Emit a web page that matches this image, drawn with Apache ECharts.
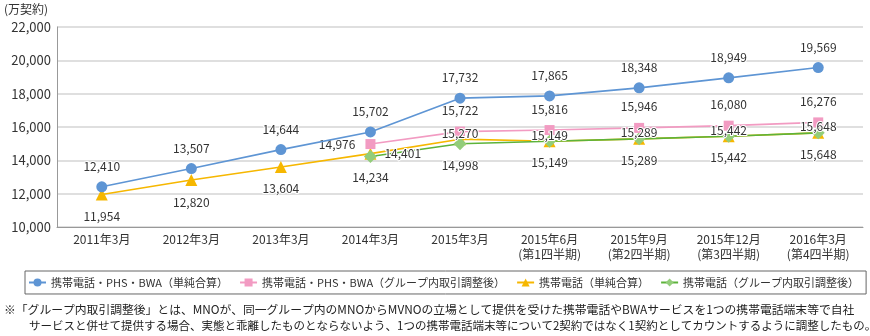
<!DOCTYPE html>
<html>
<head>
<meta charset="utf-8">
<script src="https://cdn.jsdelivr.net/npm/echarts@6/dist/echarts.min.js"></script>
<style>
  html, body { margin: 0; padding: 0; background: #fff; }
  #chart { width: 870px; height: 336px; }
</style>
</head>
<body>
<div id="chart"></div>
<script>
// 契約数の推移（万契約）
const categories = [
  '2011年3月', '2012年3月', '2013年3月', '2014年3月', '2015年3月',
  '2015年6月\n(第1四半期)', '2015年9月\n(第2四半期)', '2015年12月\n(第3四半期)', '2016年3月\n(第4四半期)'
];
const seriesNames = [
  '携帯電話・PHS・BWA（単純合算）',
  '携帯電話・PHS・BWA（グループ内取引調整後）',
  '携帯電話（単純合算）',
  '携帯電話（グループ内取引調整後）'
];
const mobilePhsBwaTotal    = [12410, 13507, 14644, 15702, 17732, 17865, 18348, 18949, 19569];
const mobilePhsBwaAdjusted = [null, null, null, 14976, 15722, 15816, 15946, 16080, 16276];
const mobileTotal          = [11954, 12820, 13604, 14401, 15270, 15149, 15289, 15442, 15648];
const mobileAdjusted       = [null, null, null, 14234, 14998, 15149, 15289, 15442, 15648];
const yTicks = { min: 10000, max: 22000, interval: 2000 };

const FONT = '"Noto Sans CJK JP", "Noto Sans", sans-serif';
const fmt = v => v.toLocaleString('en-US');

const baseLabel = {
  show: true,
  fontFamily: FONT,
  fontSize: 12,
  color: '#333',
  textBorderColor: '#fff',
  textBorderWidth: 2,
  formatter: p => fmt(p.value)
};

// attach per-point label overrides to a value list
function withLabels(values, overrides) {
  return values.map((v, i) => {
    if (v == null) return null;
    const o = overrides[i];
    return o ? { value: v, label: o } : v;
  });
}

const near = { position: 'top', distance: -6 };
const ORANGE = '#f6b700';

const option = {
  animation: false,
  textStyle: { fontFamily: FONT },
  grid: { left: 57, right: 7, top: 27, bottom: 109 },
  legend: {
    data: seriesNames,
    left: 25,
    top: 271,
    width: 900,
    padding: [6, 7, 6, 3],
    borderColor: '#666',
    borderWidth: 1,
    itemGap: 11,
    itemWidth: 17,
    itemHeight: 10,
    textStyle: { fontFamily: FONT, fontSize: 11, color: '#333' }
  },
  xAxis: {
    type: 'category',
    data: categories,
    axisLine: { lineStyle: { color: '#999', width: 1 } },
    axisTick: { inside: true, length: 8, lineStyle: { color: '#888' } },
    axisLabel: { fontFamily: FONT, fontSize: 12, color: '#333', margin: 5, lineHeight: 15 }
  },
  yAxis: {
    type: 'value',
    min: yTicks.min,
    max: yTicks.max,
    interval: yTicks.interval,
    axisLine: { show: true, lineStyle: { color: '#999', width: 1 } },
    axisTick: { show: false },
    splitLine: { lineStyle: { color: '#d4d4d4', width: 1.5 } },
    axisLabel: { fontFamily: FONT, fontSize: 13, color: '#333', margin: 6, formatter: v => fmt(v) }
  },
  graphic: [
    { type: 'text', left: 4, top: 3, style: { text: '(万契約)', font: '12px ' + FONT, fill: '#333' } },
    { type: 'text', left: 4, top: 304, style: {
      text: '※「グループ内取引調整後」とは、MNOが、同一グループ内のMNOからMVNOの立場として提供を受けた携帯電話やBWAサービスを1つの携帯電話端末等で自社',
      font: '11.8px ' + FONT, fill: '#222' } },
    { type: 'text', left: 29, top: 320, style: {
      text: 'サービスと併せて提供する場合、実態と乖離したものとならないよう、1つの携帯電話端末等について2契約ではなく1契約としてカウントするように調整したもの。',
      font: '11.5px ' + FONT, fill: '#222' } }
  ],
  series: [
    {
      name: seriesNames[2],
      type: 'line',
      data: mobileTotal,
      symbol: 'triangle',
      symbolSize: 12,
      itemStyle: { color: ORANGE },
      lineStyle: { color: ORANGE, width: 1.6 },
      label: { show: false },
      z: 2
    },
    {
      name: seriesNames[3],
      type: 'line',
      data: mobileAdjusted,
      symbol: 'diamond',
      symbolSize: 13,
      itemStyle: { color: '#93cd7a' },
      lineStyle: { color: '#5db33a', width: 1.6 },
      label: Object.assign({}, baseLabel, { position: 'bottom', distance: 9 }),
      z: 3
    },
    {
      name: seriesNames[1],
      type: 'line',
      data: withLabels(mobilePhsBwaAdjusted, { 3: { position: 'left', distance: 10 } }),
      symbol: 'rect',
      symbolSize: 10,
      itemStyle: { color: '#f29bc2' },
      lineStyle: { color: '#f29bc2', width: 1.6 },
      label: Object.assign({}, baseLabel, { position: 'top', distance: 10 }),
      z: 4
    },
    {
      name: seriesNames[0],
      type: 'line',
      data: mobilePhsBwaTotal,
      symbol: 'circle',
      symbolSize: 11,
      itemStyle: { color: '#5e95d4' },
      lineStyle: { color: '#5e95d4', width: 1.6 },
      label: Object.assign({}, baseLabel, { position: 'top', distance: 9 }),
      z: 5
    },
    {
      // value labels for 携帯電話（単純合算）, kept above the other series' markers
      name: seriesNames[2] + ' labels',
      type: 'line',
      data: withLabels(mobileTotal, { 3: { position: 'right', distance: 8 }, 4: near, 5: near, 6: near, 7: near, 8: near }),
      symbol: 'triangle',
      symbolSize: 12,
      silent: true,
      itemStyle: { color: 'rgba(0,0,0,0)' },
      lineStyle: { width: 0, opacity: 0 },
      label: Object.assign({}, baseLabel, { position: 'bottom', distance: 10 }),
      z: 6
    }
  ]
};

const chart = echarts.init(document.getElementById('chart'), null, { renderer: 'canvas' });
chart.setOption(option);
</script>
</body>
</html>
